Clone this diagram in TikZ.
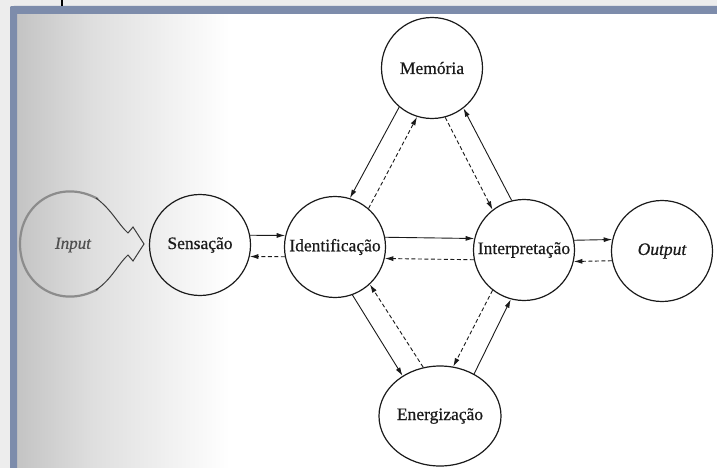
\documentclass[tikz,border=0pt]{standalone}
\usepackage{fontspec}
\setmainfont{Liberation Serif}
\newfontfamily\scanfont[FakeBold=0.6]{Liberation Serif}
\usetikzlibrary{arrows.meta,calc,shapes.geometric}
\definecolor{framec}{HTML}{7D8CAB}
\definecolor{pagebg}{HTML}{EDEDED}
\definecolor{ink}{HTML}{1A1A1A}
\definecolor{bulbc}{HTML}{8C8C8C}
\definecolor{inputc}{HTML}{505050}
\tikzset{
  stage/.style={circle, draw=ink, line width=1.2pt, minimum size=101pt, inner sep=0pt,
    font=\scanfont\fontsize{17.5}{20}\selectfont, text=ink},
  solidarr/.style={draw=ink, line width=0.9pt, -{Latex[length=8.5pt,width=5pt]}},
  dasharr/.style={solidarr, dash pattern=on 4pt off 2.5pt},
}
\newcommand\linkarrow[4]{%
  \draw[#1] let \p1=($(#3)-(#2)$), \n1={atan2(\y1,\x1)}, \n2={\n1+#4}, \n3={\n1+180-#4}
    in (#2.\n2) -- (#3.\n3);}
\begin{document}
\begin{tikzpicture}[x=1pt,y=-1pt]
\useasboundingbox (0,0) rectangle (717,468);
% page, paper and frame
\fill[pagebg] (0,0) rectangle (717,468);
\fill[white] (12,10) rectangle (717,468);
\shade[left color=black!24, right color=black!13] (12,10) rectangle (90.5,468);
\shade[left color=black!13, right color=white] (90,10) rectangle (230,468);
\fill[framec] (10,468) -- (10,10) .. controls (10,6) .. (14,6) -- (717,6) -- (717,14)
  -- (17,14) -- (17,468) -- cycle;
\draw[black, line width=2pt] (62,0) -- (62,6);
% input balloon
\draw[bulbc, line width=2.2pt] (98,289) .. controls (60,310) and (20,285) .. (20,244)
  .. controls (20,203) and (60,178) .. (98,199);
\draw[ink!85, line width=1pt, line join=miter]
  (96,198) .. controls (112,210) and (118,224) .. (128,233)
  -- (133,227) -- (144,244) -- (133,261) -- (128,255)
  .. controls (118,264) and (112,279) .. (96,290);
\node[font=\scanfont\itshape\fontsize{17}{20}\selectfont, text=inputc] (inp) at (73,245) {Input};
% stages
\node[stage] (mem) at (432,68) {Memória};
\node[stage] (sen) at (200,245) {Sensação};
\node[stage] (ide) at (335,247) {Identificação};
\node[stage] (int) at (524,250) {Interpretação};
\node[stage, font=\scanfont\itshape\fontsize{17.5}{20}\selectfont] (out) at (662,251) {Output};
\node[stage, ellipse, minimum width=122pt, minimum height=100pt] (ene) at (440,416) {Energização};
% horizontal connectors
\linkarrow{solidarr}{sen}{ide}{12}
\linkarrow{dasharr}{ide}{sen}{12}
\linkarrow{solidarr}{ide}{int}{12}
\linkarrow{dasharr}{int}{ide}{12}
\linkarrow{solidarr}{int}{out}{12}
\linkarrow{dasharr}{out}{int}{12}
% diagonal connectors
\linkarrow{solidarr}{mem}{ide}{-12}
\linkarrow{dasharr}{ide}{mem}{-12}
\linkarrow{solidarr}{int}{mem}{-12}
\linkarrow{dasharr}{mem}{int}{-12}
\linkarrow{solidarr}{ide}{ene}{-12}
\linkarrow{dasharr}{ene}{ide}{-12}
\linkarrow{solidarr}{ene}{int}{-12}
\linkarrow{dasharr}{int}{ene}{-12}
\end{tikzpicture}
\end{document}
